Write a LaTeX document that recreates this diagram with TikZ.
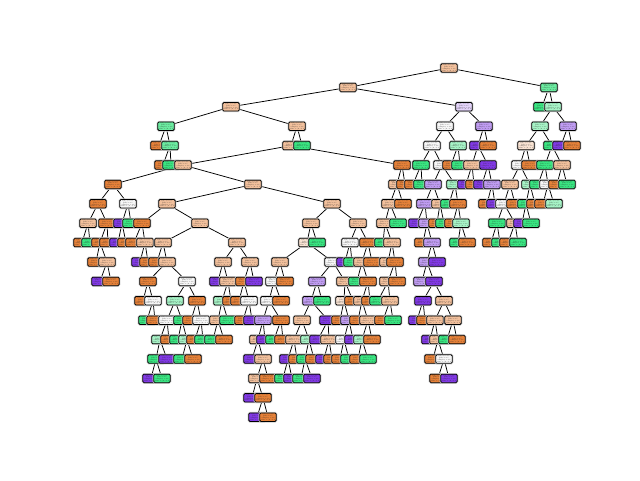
\documentclass[tikz,border=0pt]{standalone}
\usepackage{fontspec}
\usetikzlibrary{backgrounds}
\definecolor{cO}{HTML}{E58139}
\definecolor{cG}{HTML}{39E581}
\definecolor{cP}{HTML}{8139E5}
\colorlet{co}{cO!50!white}
\colorlet{cp}{cO!22!white}
\colorlet{cW}{black!3}
\colorlet{cg}{cG!45!white}
\colorlet{cm}{cG!75!white}
\colorlet{cl}{cP!50!white}
\colorlet{cv}{cP!22!white}
\newcommand{\nodetext}{x[2] <= 0.5\\gini = 0.5\\samples = 12\\value = [6, 4, 2]}
\tikzset{
  treebox/.style={draw=black, line width=0.75pt, rounded corners=1.2pt, fill=#1,
    minimum width=15pt, minimum height=8.5pt, inner sep=0.5pt,
    font=\fontsize{1.6}{1.75}\selectfont, text=black!85, align=center,
    preaction={draw=black!20, line width=2.2pt}},
  link/.style={line width=0.75pt, black}
}
\begin{document}
\begin{tikzpicture}[x=1pt,y=-1pt]
\useasboundingbox (0,0) rectangle (640,480);
% level / x / colour / parent x (0 = root)
\def\treenodes{0/449/o/0,
1/348/o/449, 1/549/m/449,
2/231/o/348, 2/464/v/348, 2/542/G/549, 2/553/g/549,
3/166/m/231, 3/297/o/231, 3/445/W/464, 3/484/l/464, 3/540/g/553, 3/568/l/553,
4/159/O/166, 4/170/m/166, 4/291/o/297, 4/302/G/297, 4/432/W/445, 4/458/g/445, 4/478/P/484, 4/488/O/484, 4/526/p/540, 4/552/G/540, 4/561/P/568, 4/572/O/568,
5/163/O/170, 5/171/G/170, 5/183/o/291, 5/402/O/291, 5/421/G/432, 5/442/W/432, 5/451/O/458, 5/460/G/458, 5/472/o/478, 5/488/P/478, 5/520/W/526, 5/530/O/526, 5/545/G/552, 5/562/o/552,
6/113/O/183, 6/253/o/183, 6/397/o/402, 6/405/O/402, 6/413/O/421, 6/422/G/421, 6/433/l/442, 6/455/g/442, 6/466/P/472, 6/474/O/472, 6/482/P/488, 6/492/l/488, 6/510/o/520, 6/530/g/520, 6/538/G/545, 6/548/W/545, 6/557/O/562, 6/567/G/562,
7/98/O/113, 7/128/W/113, 7/167/o/253, 7/332/o/253, 7/390/o/397, 7/403/O/397, 7/425/l/433, 7/440/o/433, 7/449/G/455, 7/458/O/455, 7/487/O/492, 7/495/P/492, 7/504/W/510, 7/515/O/510, 7/526/G/530, 7/535/O/530, 7/543/O/548, 7/554/g/548,
8/88/o/98, 8/107/O/98, 8/122/P/128, 8/131/G/128, 8/142/O/167, 8/200/o/167, 8/311/o/332, 8/358/o/332, 8/385/o/390, 8/398/G/390, 8/417/P/425, 8/427/l/425, 8/437/O/440, 8/444/G/440, 8/453/O/458, 8/461/g/458, 8/497/G/504, 8/515/o/504, 8/522/P/526, 8/531/G/526,
9/82/O/88, 9/90/G/88, 9/100/O/107, 9/108/O/107, 9/118/P/122, 9/126/O/122, 9/134/O/142, 9/145/o/142, 9/163/o/200, 9/237/o/200, 9/307/p/311, 9/317/G/311, 9/350/W/358, 9/368/O/358, 9/383/G/385, 9/392/o/385, 9/423/O/427, 9/432/l/427, 9/458/G/461, 9/467/O/461, 9/491/O/497, 9/500/G/497, 9/508/O/515, 9/518/G/515,
10/96/O/100, 10/107/o/100, 10/140/P/145, 10/148/O/145, 10/157/O/163, 10/167/o/163, 10/223/o/237, 10/250/o/237, 10/280/o/307, 10/333/W/307, 10/345/P/350, 10/352/G/350, 10/362/o/368, 10/372/O/368, 10/388/o/392, 10/395/O/392, 10/427/l/432, 10/437/P/432,
11/100/P/107, 11/111/O/107, 11/148/O/167, 11/187/W/167, 11/218/P/223, 11/228/o/223, 11/244/O/250, 11/254/P/250, 11/274/W/280, 11/285/O/280, 11/317/l/333, 11/345/o/333, 11/357/G/362, 11/368/O/362, 11/388/o/395, 11/397/O/395, 11/422/l/427, 11/434/P/427,
12/143/O/148, 12/153/W/148, 12/175/g/187, 12/197/O/187, 12/222/g/228, 12/231/O/228, 12/239/O/244, 12/249/W/244, 12/269/W/274, 12/281/O/274, 12/311/l/317, 12/322/G/317, 12/344/p/345, 12/353/O/345, 12/362/o/368, 12/370/O/368, 12/378/G/388, 12/390/o/388, 12/423/P/434, 12/444/o/434,
13/147/G/153, 13/155/O/153, 13/167/W/175, 13/182/G/175, 13/191/O/197, 13/201/W/197, 13/218/o/222, 13/228/G/222, 13/243/O/249, 13/252/P/249, 13/263/l/269, 13/281/O/269, 13/302/o/311, 13/328/P/311, 13/340/O/344, 13/349/l/344, 13/358/O/362, 13/368/o/362, 13/383/O/390, 13/393/G/390, 13/417/P/423, 13/425/O/423, 13/435/o/444, 13/453/o/444,
14/160/g/167, 14/169/O/167, 14/178/G/182, 14/187/g/182, 14/195/O/201, 14/203/G/201, 14/213/G/218, 14/224/O/218, 14/258/o/263, 14/265/P/263, 14/274/G/281, 14/283/O/281, 14/294/o/302, 14/309/g/302, 14/318/P/328, 14/329/o/328, 14/344/W/349, 14/353/P/349, 14/362/g/368, 14/372/O/368, 14/430/P/435, 14/438/o/435, 14/447/G/453, 14/457/O/453,
15/156/G/160, 15/167/P/160, 15/182/G/187, 15/193/O/187, 15/252/P/258, 15/263/o/258, 15/288/P/294, 15/297/O/294, 15/305/G/309, 15/314/O/309, 15/324/P/329, 15/332/O/329, 15/340/O/344, 15/349/G/344, 15/358/O/362, 15/368/G/362, 15/433/O/438, 15/444/W/438,
16/151/P/156, 16/162/G/156, 16/257/o/263, 16/268/O/263, 16/283/G/288, 16/292/P/288, 16/301/G/305, 16/312/P/305, 16/438/O/444, 16/449/P/444,
17/252/P/257, 17/263/O/257,
18/257/P/263, 18/268/O/263}
% boxes
\foreach \l/\x/\s/\p in \treenodes {
  \node[treebox=c\s] (n-\l-\x) at (\x, {68+19.4*\l}) {\nodetext};
}
% connectors, kept behind the boxes
\begin{pgfonlayer}{background}
\foreach \l/\x/\s/\p in \treenodes {
  \ifnum\p>0
    \pgfmathtruncatemacro{\pl}{\l-1}
    \draw[link] (n-\pl-\p) -- (n-\l-\x);
  \fi
}
\end{pgfonlayer}
\end{tikzpicture}
\end{document}
